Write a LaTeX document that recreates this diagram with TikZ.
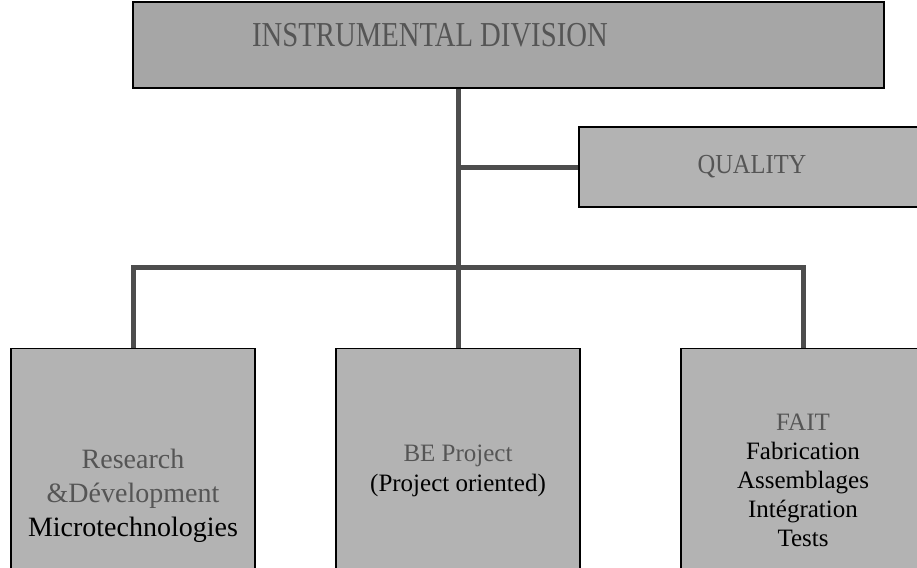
\documentclass[tikz,border=0pt]{standalone}
\usepackage{fontspec}
\setmainfont{Liberation Serif}
\newfontfamily\titlefont[FakeStretch=0.82]{Liberation Serif}
\newfontfamily\qualityfont[FakeStretch=0.89]{Liberation Serif}
\definecolor{boxgray}{HTML}{B3B3B3}
\definecolor{topgray}{HTML}{A6A6A6}
\definecolor{textgray}{HTML}{555555}
\definecolor{linegray}{HTML}{4D4D4D}

\begin{document}
\begin{tikzpicture}[x=1pt,y=-1pt,
  box/.style={rectangle, draw=black, line width=1.2pt, fill=boxgray, minimum width=244pt, align=center, inner sep=0pt},
  link/.style={draw=linegray, line width=5pt}]
\useasboundingbox (0,0) rectangle (917,567);
\clip (0,0) rectangle (917,567);
% top of the chart
\node (division) [box, fill=topgray, minimum width=751pt, minimum height=86pt] at (508.5,45) {};
\node (title) [text=textgray, font=\titlefont\fontsize{35}{40}\selectfont] at (430,35) {INSTRUMENTAL DIVISION};
\node (quality) [box, minimum width=346pt, minimum height=80pt, text=textgray, font=\qualityfont\fontsize{27.5}{30}\selectfont] at (752,167) {QUALITY};
% the three departments
\node (rnd) [box, anchor=north, minimum height=294pt, font=\fontsize{28}{34}\selectfont] at (133,348)
  {\textcolor{textgray}{Research}\\\textcolor{textgray}{\&Dévelopment}\\Microtechnologies};
\node (be) [box, anchor=north, minimum height=244pt, font=\fontsize{25}{30}\selectfont] at (458,348)
  {\textcolor{textgray}{BE Project}\\(Project oriented)};
\node (fait) [box, anchor=north, minimum height=264pt, font=\fontsize{25}{29}\selectfont] at (803,348)
  {\textcolor{textgray}{FAIT}\\Fabrication\\Assemblages\\Intégration\\Tests};
% connectors
\coordinate (bus) at (458,267);
\draw[link] (division.south -| be.north) -- (be.north);
\draw[link] (quality.west -| be.north) -- (quality.west);
\draw[link] (rnd.north) |- (bus) -| (fait.north);
\end{tikzpicture}
\end{document}
